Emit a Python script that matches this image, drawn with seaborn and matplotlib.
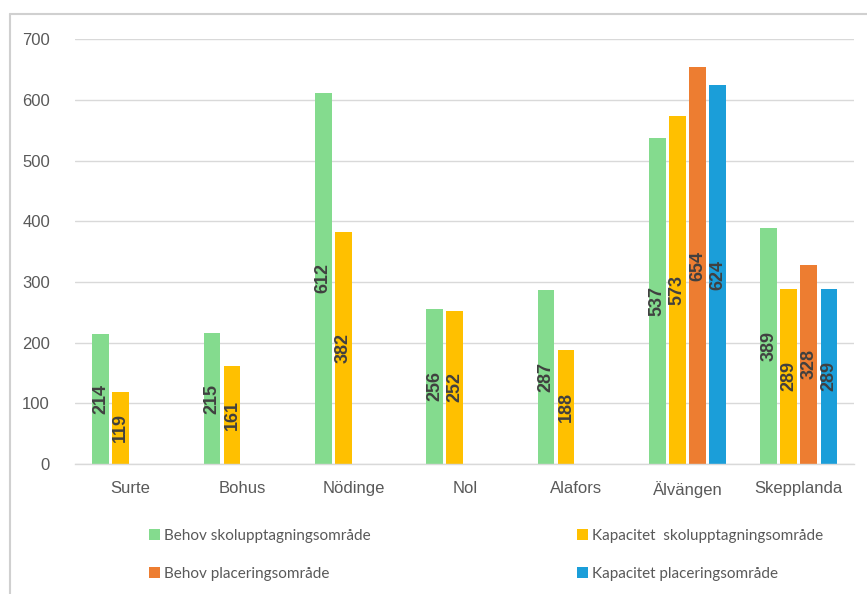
import pandas as pd
import numpy as np
import matplotlib
matplotlib.use("Agg")
import matplotlib.pyplot as plt
import seaborn as sns

omraden = ["Surte", "Bohus", "Nödinge", "Nol", "Alafors", "Älvängen", "Skepplanda"]
serier = ["Behov skolupptagningsområde", "Kapacitet  skolupptagningsområde",
          "Behov placeringsområde", "Kapacitet placeringsområde"]
behov_skol = [214, 215, 612, 256, 287, 537, 389]
kapacitet_skol = [119, 161, 382, 252, 188, 573, 289]
behov_plac = [np.nan, np.nan, np.nan, np.nan, np.nan, 654, 328]
kapacitet_plac = [np.nan, np.nan, np.nan, np.nan, np.nan, 624, 289]
farger = ["#84DB8E", "#FFC000", "#ED7D31", "#1B9ED9"]

rows = []
for s, vals in zip(serier, [behov_skol, kapacitet_skol, behov_plac, kapacitet_plac]):
    for o, v in zip(omraden, vals):
        rows.append({"omrade": o, "serie": s, "antal": v})
df = pd.DataFrame(rows)

sns.set_style("white")
plt.rcParams['font.family'] = ['Liberation Sans', 'DejaVu Sans']

fig = plt.figure(figsize=(8.67, 5.94), dpi=100)
ax = fig.add_axes([0.0865, 0.219, 0.899, 0.715])

sns.barplot(data=df, x="omrade", y="antal", hue="serie", hue_order=serier,
            order=omraden, palette=farger, width=0.72, gap=0.17, linewidth=0,
            saturation=1, errorbar=None, ax=ax, legend=True)

for cont in ax.containers:
    labels = ["" if np.isnan(b.get_height()) or b.get_height() == 0 else f"{b.get_height():.0f}"
              for b in cont]
    ax.bar_label(cont, labels=labels, label_type="center", rotation=90,
                 color="#404040", fontsize=13, fontweight="bold")

ax.set_ylim(0, 700)
ax.set_yticks(range(0, 701, 100))
ax.set_xlim(-0.5, len(omraden) - 0.5)
ax.yaxis.grid(True, color="#d9d9d9", linewidth=1)
ax.set_axisbelow(True)
for sp in ["top", "right", "left"]:
    ax.spines[sp].set_visible(False)
ax.spines["bottom"].set_color("#d9d9d9")
ax.spines["bottom"].set_linewidth(1)
ax.set_xlabel("")
ax.set_ylabel("")
ax.tick_params(axis="both", length=0, labelsize=12, colors="#595959", pad=12)
ax.tick_params(axis="y", pad=18)

handles, labs = ax.get_legend_handles_labels()
ax.get_legend().remove()
ordning = [0, 2, 1, 3]
fig.legend([handles[i] for i in ordning], [labs[i] for i in ordning],
           loc="upper left", bbox_to_anchor=(0.156, 0.133), ncol=2,
           frameon=False, handlelength=0.7, handleheight=0.7,
           handletextpad=0.3, columnspacing=13.5, labelspacing=1.6,
           labelcolor="#595959",
           prop={"family": ["Lato", "Liberation Sans"], "size": 11})

# ram runt diagrammet
fig.add_artist(plt.Line2D([10 / 867, 10 / 867], [0, 1 - 14 / 594], color="#d0d0d0",
                          linewidth=1.5, transform=fig.transFigure))
fig.add_artist(plt.Line2D([10 / 867, 1], [1 - 14 / 594, 1 - 14 / 594], color="#d0d0d0",
                          linewidth=1.5, transform=fig.transFigure))

fig.savefig("out.png", dpi=100)
